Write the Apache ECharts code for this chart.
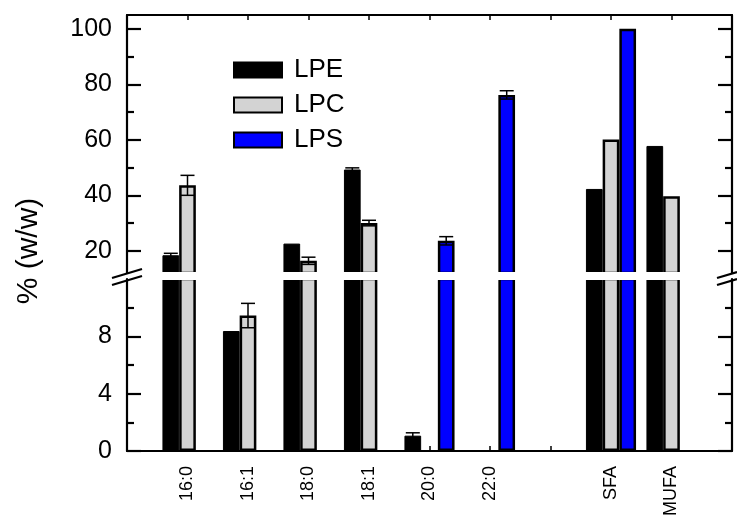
<!DOCTYPE html>
<html>
<head>
<meta charset="utf-8">
<script src="https://cdn.jsdelivr.net/npm/echarts@6/dist/echarts.min.js"></script>
<style>html,body{margin:0;padding:0;background:#fff}#c{width:737px;height:520px}</style>
</head>
<body>
<div id="c"></div>
<script>
// ---- data ----
const categories = ['16:0', '16:1', '18:0', '18:1', '20:0', '22:0', '', 'SFA', 'MUFA'];
const lpe    = [18.4, 8.37, 22.6, 49.3, 1.07, null, null, 42.3, 57.8];
const lpeErr = [0.7, 0, 0, 0.6, 0.2, 0, 0, 0, 0];
const lpc    = [43.6, 9.45, 16.4, 30.0, null, null, null, 60.1, 39.7];
const lpcErr = [3.6, 0.85, 1.3, 1.0, 0, 0, 0, 0, 0];
const lps    = [null, null, null, null, 23.6, 76.2, null, 100, null];
const lpsErr = [0, 0, 0, 0, 1.5, 1.5, 0, 0, 0];
const breakValue = 12;
const upperMax = 105;
const upperMajorTicks = [20, 40, 60, 80, 100];
const upperMinorTicks = [30, 50, 70, 90];
const lowerMajorTicks = [0, 4, 8];
const lowerMinorTicks = [2, 6, 10];

// ---- build ----
const axisCats = [''].concat(categories, ['']);
const pad = arr => [null].concat(arr, [null]);
const FONT = 'Liberation Sans, Arial, sans-serif';
const BW = 16.7;

const seriesDefs = [
  { name: 'LPE', vals: lpe, errs: lpeErr, off: -1, style: { color: '#000', borderColor: '#000', borderWidth: 1 } },
  { name: 'LPC', vals: lpc, errs: lpcErr, off: 0, style: { color: '#d3d3d3', borderColor: '#000', borderWidth: 2.5 } },
  { name: 'LPS', vals: lps, errs: lpsErr, off: 1, style: { color: '#0000ff', borderColor: '#000', borderWidth: 2.5 } }
];

function errRender(off) {
  return function (params, api) {
    const x = api.value(0), v = api.value(1), e = api.value(2);
    const hi = api.coord([x, v + e]);
    const lo = api.coord([x, v - e]);
    const cx = hi[0] + off * BW;
    const cw = 7;
    const st = { stroke: '#000', lineWidth: 1.5 };
    return {
      type: 'group',
      children: [
        { type: 'line', shape: { x1: cx, y1: hi[1], x2: cx, y2: lo[1] }, style: st },
        { type: 'line', shape: { x1: cx - cw, y1: hi[1], x2: cx + cw, y2: hi[1] }, style: st },
        { type: 'line', shape: { x1: cx - cw, y1: lo[1], x2: cx + cw, y2: lo[1] }, style: st }
      ]
    };
  };
}

const series = [];
[[0, 0], [1, 4]].forEach(([g, yi]) => {
  seriesDefs.forEach(d => {
    series.push({
      type: 'bar', name: d.name, xAxisIndex: g === 0 ? 0 : 1, yAxisIndex: yi,
      data: pad(d.vals), barWidth: BW, barGap: '0%', itemStyle: d.style, clip: true, z: 2
    });
  });
  seriesDefs.forEach(d => {
    const data = [];
    d.vals.forEach((v, i) => { if (v != null && d.errs[i] > 0) data.push([i + 1, v, d.errs[i]]); });
    series.push({
      type: 'custom', name: 'err' + d.name, xAxisIndex: g === 0 ? 0 : 1, yAxisIndex: yi,
      data: data, renderItem: errRender(d.off), clip: true, z: 5, encode: { x: 0, y: 1 }
    });
  });
});

const lineStyle = { color: '#000', width: 2.2 };
function yAx(grid, pos, min, max, ticks, len, labels, showLine) {
  return {
    type: 'value', gridIndex: grid, position: pos, min: min, max: max,
    splitLine: { show: false },
    axisLine: { show: showLine, lineStyle: lineStyle },
    axisTick: { show: true, inside: true, length: len, customValues: ticks, lineStyle: { color: '#000', width: 2.2 } },
    axisLabel: labels ? { show: true, customValues: ticks, margin: 15, color: '#000', fontSize: 25, fontFamily: FONT } : { show: false }
  };
}

const option = {
  animation: false,
  backgroundColor: '#fff',
  grid: [
    { left: 127, right: 5, top: 15, bottom: 247, containLabel: false, outerBoundsMode: 'none' },
    { left: 127, right: 5, top: 279, bottom: 69, containLabel: false, outerBoundsMode: 'none' }
  ],
  xAxis: [
    { type: 'category', gridIndex: 0, position: 'top', data: axisCats, boundaryGap: false,
      axisLine: { lineStyle: lineStyle }, axisTick: { inside: true, length: 5, lineStyle: { color: '#000', width: 1.5 } },
      axisLabel: { show: false }, splitLine: { show: false } },
    { type: 'category', gridIndex: 1, position: 'bottom', data: axisCats, boundaryGap: false,
      axisLine: { lineStyle: lineStyle }, axisTick: { inside: true, length: 5, lineStyle: { color: '#000', width: 1.5 } },
      axisLabel: { show: true, rotate: 90, margin: 15, color: '#000', fontSize: 18, fontFamily: FONT, interval: 0 },
      splitLine: { show: false } }
  ],
  yAxis: [
    yAx(0, 'left', breakValue, upperMax, upperMajorTicks, 14, true, true),
    yAx(0, 'left', breakValue, upperMax, upperMinorTicks, 7, false, false),
    yAx(0, 'right', breakValue, upperMax, upperMajorTicks, 14, false, true),
    yAx(0, 'right', breakValue, upperMax, upperMinorTicks, 7, false, false),
    yAx(1, 'left', 0, breakValue, lowerMajorTicks, 14, true, true),
    yAx(1, 'left', 0, breakValue, lowerMinorTicks, 7, false, false),
    yAx(1, 'right', 0, breakValue, lowerMajorTicks, 14, false, true),
    yAx(1, 'right', 0, breakValue, lowerMinorTicks, 7, false, false)
  ],
  legend: {
    data: ['LPE', 'LPC', 'LPS'], orient: 'vertical', left: 228, top: 52,
    itemWidth: 48, itemHeight: 15, itemGap: 9, icon: 'rect',
    textStyle: { fontSize: 26, color: '#000', fontFamily: FONT, padding: [0, 0, 0, 7] }
  },
  graphic: [
    { type: 'rect', z: 100, shape: { x: 129, y: 272, width: 601, height: 8 }, style: { fill: '#fff' } },
    { type: 'line', z: 101, shape: { x1: 112, y1: 278, x2: 142, y2: 269 }, style: { stroke: '#000', lineWidth: 2.2 } },
    { type: 'line', z: 101, shape: { x1: 112, y1: 285, x2: 142, y2: 276 }, style: { stroke: '#000', lineWidth: 2.2 } },
    { type: 'line', z: 101, shape: { x1: 717, y1: 278, x2: 737, y2: 272 }, style: { stroke: '#000', lineWidth: 2.2 } },
    { type: 'line', z: 101, shape: { x1: 717, y1: 285, x2: 737, y2: 279 }, style: { stroke: '#000', lineWidth: 2.2 } },
    { type: 'text', z: 101, x: 29, y: 251, rotation: Math.PI / 2,
      style: { text: '% (w/w)', fill: '#000', font: '30px ' + FONT, align: 'center', verticalAlign: 'middle' } }
  ],
  series: series
};

const chart = echarts.init(document.getElementById('c'), null, { renderer: 'canvas' });
chart.setOption(option);
</script>
</body>
</html>
